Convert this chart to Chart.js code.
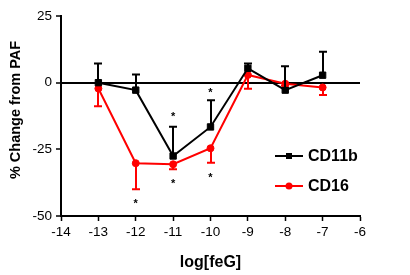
<!DOCTYPE html>
<html>
<head>
<meta charset="utf-8">
<script src="https://cdn.jsdelivr.net/npm/chart.js@4"></script>
<style>
  html,body{margin:0;padding:0;background:#fff;}
  #c{display:block;}
</style>
</head>
<body>
<canvas id="c" width="410" height="275"></canvas>
<script>
/* log[feG] doses */
const doses=[-13,-12,-11,-10,-9,-8,-7];
const cd11b=[0,-2.8,-27.5,-16.6,5.4,-2.8,2.8];
const cd11bErr=[7.2,5.9,11,10,1.8,9,8.8];   // drawn upwards
const cd16=[-2.2,-30.2,-30.6,-24.6,2.9,-0.4,-1.8];
const cd16Err=[6.6,9.8,1.9,5.4,5.2,0.8,2.8];  // drawn downwards
/* significance marks */
const starX=[-12,-11,-11,-10,-10];
const starY=[-44.7,-12.3,-37.1,-3.3,-35];
const xTicks=[-14,-13,-12,-11,-10,-9,-8,-7,-6];
const yTicks=[-50,-25,0,25];

const FONT='"Liberation Sans", Arial, sans-serif';

const pts=(ys)=>doses.map((x,i)=>({x:x,y:ys[i]}));

/* error bars + asterisks + legend, positioned via scales */
const extras={
  id:'extras',
  afterDatasetsDraw(chart){
    const {ctx,scales:{x,y}}=chart;
    const bar=(xs,ys,errs,dir,color)=>{
      ctx.save();
      ctx.strokeStyle=color;ctx.lineWidth=2;
      xs.forEach((v,i)=>{
        const px=Math.round(x.getPixelForValue(v));
        const p0=y.getPixelForValue(ys[i]);
        const p1=y.getPixelForValue(ys[i]+dir*errs[i]);
        ctx.beginPath();
        ctx.moveTo(px,p0);ctx.lineTo(px,p1);
        ctx.moveTo(px-4,p1);ctx.lineTo(px+4,p1);
        ctx.stroke();
      });
      ctx.restore();
    };
    bar(doses,cd16,cd16Err,-1,'#ff0000');
    bar(doses,cd11b,cd11bErr,1,'#000000');

    ctx.save();
    ctx.fillStyle='#000';
    ctx.font='bold 11px '+FONT;
    ctx.textAlign='center';ctx.textBaseline='middle';
    starX.forEach((v,i)=>ctx.fillText('*',x.getPixelForValue(v),y.getPixelForValue(starY[i])+2));
    ctx.restore();

    /* legend */
    const items=[
      {label:'CD11b',color:'#000',style:'rect',ly:156},
      {label:'CD16',color:'#ff0000',style:'circle',ly:186}
    ];
    ctx.save();
    items.forEach(it=>{
      ctx.strokeStyle=it.color;ctx.fillStyle=it.color;ctx.lineWidth=2;
      ctx.beginPath();ctx.moveTo(275,it.ly);ctx.lineTo(303,it.ly);ctx.stroke();
      if(it.style==='rect')ctx.fillRect(286,it.ly-3,6,6);
      else{ctx.beginPath();ctx.arc(289,it.ly,3.5,0,Math.PI*2);ctx.fill();}
      ctx.fillStyle='#000';
      ctx.font='bold 16px '+FONT;
      ctx.textAlign='left';ctx.textBaseline='middle';
      ctx.fillText(it.label,308,it.ly+1);
    });
    ctx.restore();
  }
};

new Chart(document.getElementById('c'),{
  type:'line',
  data:{
    datasets:[
      {label:'CD16',data:pts(cd16),borderColor:'#ff0000',backgroundColor:'#ff0000',
       borderWidth:2,pointStyle:'circle',pointRadius:3.5,pointBorderWidth:1,tension:0,order:2},
      {label:'CD11b',data:pts(cd11b),borderColor:'#000',backgroundColor:'#000',
       borderWidth:2,pointStyle:'rect',pointRadius:4.5,pointBorderWidth:1,tension:0,order:1}
    ]
  },
  options:{
    responsive:false,animation:false,
    layout:{padding:{left:0,top:16,right:50,bottom:0}},
    plugins:{legend:{display:false},tooltip:{enabled:false}},
    scales:{
      x:{
        type:'linear',min:-14,max:-6,
        afterBuildTicks:s=>{s.ticks=xTicks.map(v=>({value:v}));},
        afterFit:s=>{s.height=59;},
        border:{color:'#000',width:2},
        grid:{drawOnChartArea:false,drawTicks:true,tickLength:5,tickColor:'#000',tickWidth:1.5},
        ticks:{color:'#000',font:{family:FONT,size:13.5},padding:3,maxRotation:0,autoSkip:false},
        title:{display:true,text:'log[feG]',color:'#000',font:{family:FONT,size:16,weight:'bold'},padding:{top:0,bottom:3}}
      },
      y:{
        min:-50,max:25,
        afterBuildTicks:s=>{s.ticks=yTicks.map(v=>({value:v}));},
        afterFit:s=>{s.width=61;},
        border:{color:'#000',width:2},
        grid:{drawOnChartArea:true,drawTicks:true,tickLength:5,tickColor:'#000',tickWidth:1.5,
          color:'#000',lineWidth:c=>c.tick&&c.tick.value===0?2:0},
        ticks:{color:'#000',font:{family:FONT,size:13.5},padding:4},
        title:{display:true,text:'   % Change from PAF',color:'#000',font:{family:FONT,size:14.5,weight:'bold'},padding:{top:7,bottom:0}}
      }
    }
  },
  plugins:[extras]
});
</script>
</body>
</html>
